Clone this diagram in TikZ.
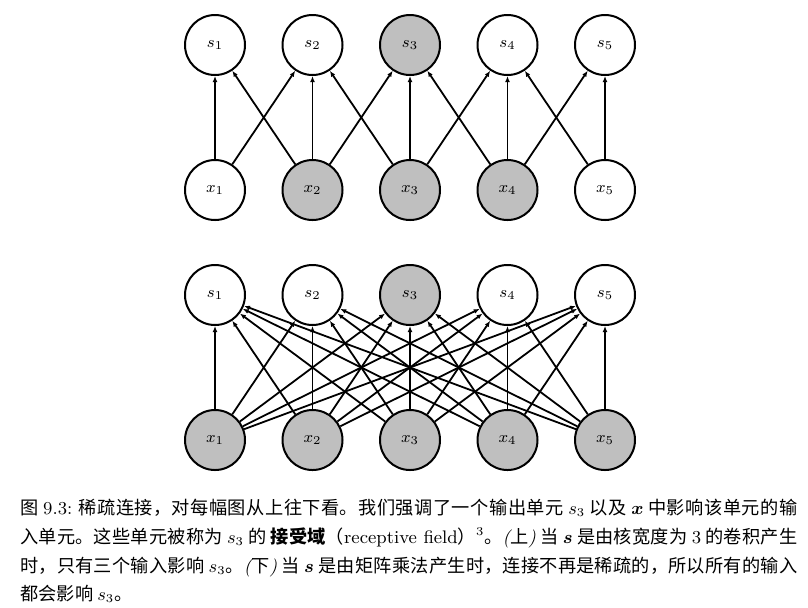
\documentclass[tikz,border=0pt]{standalone}
\usepackage{fontspec}
\usepackage{amsmath,bm}
\usetikzlibrary{arrows.meta}
\newfontfamily\cjk{Noto Sans CJK SC}
\definecolor{UnitGray}{RGB}{191,191,191}
\newcommand\lat[1]{{\normalfont #1}}
\newcommand\ip[1]{{\normalfont\itshape #1}}

\begin{document}
\begin{tikzpicture}[x=.5pt,y=-.5pt,>={Latex[length=3pt,width=2.4pt]},
  unit/.style={circle,draw,line width=1pt,minimum size=30pt,inner sep=0pt,font=\footnotesize},
  hot/.style={unit,fill=UnitGray},
  conn/.style={->,line width=.9pt}]
  \useasboundingbox (0,0) rectangle (808,607);
  % units of both panels
  \foreach \i/\up/\dn in {1/unit/unit,2/unit/hot,3/hot/hot,4/unit/hot,5/unit/unit}{
    \node[\up] (s\i) at ({215+97.5*(\i-1)},45) {$s_\i$};
    \node[\dn] (x\i) at ({215+97.5*(\i-1)},190) {$x_\i$};
    \node[\up] (S\i) at ({215+97.5*(\i-1)},295) {$s_\i$};
    \node[hot] (X\i) at ({215+97.5*(\i-1)},440) {$x_\i$};
  }
  % top: kernel of width 3
  \foreach \i/\j in {1/1,1/2,2/1,2/2,2/3,3/2,3/3,3/4,4/3,4/4,4/5,5/4,5/5}
    \draw[conn] (x\i) -- (s\j);
  % bottom: full matrix
  \foreach \i in {1,...,5}
    \foreach \j in {1,...,5}
      \draw[conn] (X\i) -- (S\j);
  \node[anchor=north west,inner sep=0pt,text width=388.5pt,align=justify,
    font=\cjk\fontsize{9.1}{14.3}\selectfont] (cap) at (20,499) {%
    \XeTeXlinebreaklocale "zh"\XeTeXlinebreakskip=0pt plus 1pt\tolerance=9999\noindent
    图 \lat{9.3:} 稀疏连接，对每幅图从上往下看。我们强调了一个输出单元 $s_3$ 以及 $\bm{x}$ 中影响该单元的输\linebreak
    入单元。这些单元被称为 $s_3$ 的 \textbf{接受域}（\lat{receptive field}）$^{3}$。\ip{(}上\ip{)} 当 $\bm{s}$ 是由核宽度为 \lat{3} 的卷积产生\linebreak
    时，只有三个输入影响 $s_3$。\ip{(}下\ip{)} 当 $\bm{s}$ 是由矩阵乘法产生时，连接不再是稀疏的，所以所有的输入\linebreak
    都会影响 $s_3$。};
\end{tikzpicture}
\end{document}
